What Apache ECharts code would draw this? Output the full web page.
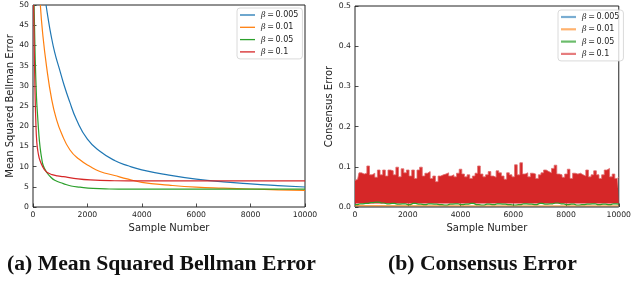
<!DOCTYPE html>
<html>
<head>
<meta charset="utf-8">
<script src="https://cdn.jsdelivr.net/npm/echarts@6/dist/echarts.min.js"></script>
<style>
  html, body { margin: 0; padding: 0; background: #fff; }
  #chart { width: 634px; height: 281px; }
</style>
</head>
<body>
<div id="chart"></div>
<script>
// series names / colours (matplotlib tab10)
const betaNames = ['β\u2009=\u20090.005', 'β\u2009=\u20090.01', 'β\u2009=\u20090.05', 'β\u2009=\u20090.1'];
const colors = ['#1f77b4', '#ff7f0e', '#2ca02c', '#d62728'];

// (a) mean squared bellman error, [sample, value]
const mbe005 = [[480, 50], [560, 46.5], [650, 43], [800, 38.2], [970, 34.2], [1150, 30], [1340, 26.2], [1600, 21.6], [2000, 16.8], [2460, 13.8], [3000, 11.5], [3500, 10.2], [4000, 9.2], [5000, 7.9], [6000, 6.9], [7000, 6.2], [8000, 5.7], [9000, 5.3], [10000, 4.95]];
const mbe01 = [[270, 50], [355, 43], [500, 34.7], [690, 26.5], [850, 22], [1050, 18.2], [1360, 14.1], [1700, 11.8], [2100, 10], [2460, 8.8], [3000, 7.8], [3500, 6.9], [4000, 6.1], [5000, 5.4], [6000, 4.9], [7000, 4.65], [8000, 4.45], [9000, 4.25], [10000, 4.1]];
const mbe05 = [[40, 50], [80, 37], [130, 27], [170, 22.5], [210, 18.5], [257, 15], [320, 12], [380, 10.2], [500, 8.6], [625, 7.6], [800, 6.6], [1115, 5.8], [1400, 5.2], [1730, 4.9], [2200, 4.6], [2800, 4.45], [3500, 4.4], [5000, 4.4], [7000, 4.4], [8500, 4.4], [10000, 4.4]];
const mbe1 = [[25, 50], [45, 40], [70, 30], [100, 22], [140, 16], [200, 13], [257, 11.5], [355, 10], [450, 9], [560, 8.4], [700, 8], [900, 7.7], [1115, 7.5], [1500, 7.1], [2100, 6.7], [3000, 6.5], [4000, 6.45], [6000, 6.45], [8000, 6.45], [10000, 6.45]];

// (b) consensus error
const ceStep = 100;           // samples between read-off points for beta=0.1
const ceRedTop = [
  0.066, 0.069, 0.085, 0.082, 0.084, 0.102, 0.080, 0.084, 0.074, 0.092,
  0.080, 0.092, 0.077, 0.092, 0.090, 0.080, 0.099, 0.075, 0.095, 0.085,
  0.092, 0.077, 0.092, 0.071, 0.092, 0.099, 0.077, 0.084, 0.088, 0.071,
  0.077, 0.063, 0.077, 0.080, 0.082, 0.085, 0.077, 0.080, 0.075, 0.084,
  0.094, 0.082, 0.075, 0.080, 0.071, 0.077, 0.084, 0.102, 0.082, 0.075,
  0.080, 0.088, 0.077, 0.074, 0.090, 0.085, 0.077, 0.069, 0.085, 0.080,
  0.075, 0.105, 0.080, 0.110, 0.082, 0.085, 0.075, 0.084, 0.082, 0.071,
  0.080, 0.085, 0.092, 0.088, 0.085, 0.096, 0.104, 0.082, 0.080, 0.074,
  0.082, 0.094, 0.071, 0.084, 0.082, 0.084, 0.080, 0.077, 0.092, 0.075,
  0.080, 0.090, 0.080, 0.071, 0.080, 0.092, 0.096, 0.075, 0.082, 0.071,
  0.075
];
const ceRedBottom = 0.009;
const ceGreenStep = 200;
const ceGreen = [
  0.006, 0.008, 0.009, 0.011, 0.012, 0.010, 0.008, 0.009, 0.007, 0.008,
  0.006, 0.009, 0.007, 0.006, 0.008, 0.007, 0.006, 0.005, 0.007, 0.008,
  0.006, 0.007, 0.009, 0.006, 0.005, 0.007, 0.006, 0.008, 0.007, 0.006,
  0.005, 0.006, 0.008, 0.007, 0.006, 0.009, 0.007, 0.008, 0.010, 0.008,
  0.006, 0.007, 0.005, 0.006, 0.007, 0.008, 0.006, 0.007, 0.006, 0.008,
  0.007
];
const ceOrange = [[0, 0.003], [5000, 0.0025], [10000, 0.0025]];
const ceBlue = [[0, 0.001], [10000, 0.001]];

const xTicks = { min: 0, max: 10000, interval: 2000 };

const chart = echarts.init(document.getElementById('chart'));

function toPairs(vals, step) {
  return vals.map((v, i) => [i * step, v]);
}

const textColor = '#222';
const tickFont = 7.7;

function xAxisFor(idx) {
  return {
    type: 'value', gridIndex: idx,
    min: xTicks.min, max: xTicks.max, interval: xTicks.interval,
    name: 'Sample Number', nameLocation: 'middle', nameGap: 9,
    nameTextStyle: { fontSize: 10, color: textColor, fontFamily: 'DejaVu Sans' },
    axisLine: { show: false },
    axisTick: { show: true, inside: true, length: 3.5, lineStyle: { color: textColor, width: 0.8 } },
    axisLabel: { fontSize: tickFont, color: textColor, margin: 4, fontFamily: 'DejaVu Sans', formatter: v => String(v) },
    splitLine: { show: false }
  };
}

function yAxisFor(idx, name, max, interval, gap, fmt) {
  return {
    type: 'value', gridIndex: idx, min: 0, max: max, interval: interval,
    name: name, nameLocation: 'middle', nameGap: gap,
    nameTextStyle: { fontSize: 10, color: textColor, fontFamily: 'DejaVu Sans' },
    axisLine: { show: false },
    axisTick: { show: true, inside: true, length: 3.5, lineStyle: { color: textColor, width: 0.8 } },
    axisLabel: { fontSize: tickFont, color: textColor, margin: 4, fontFamily: 'DejaVu Sans', formatter: fmt },
    splitLine: { show: false }
  };
}

function legendFor(left, top, iconH, opacities) {
  return {
    orient: 'vertical', left: left, top: top,
    icon: 'rect', itemWidth: 15, itemHeight: iconH, itemGap: 2.3,
    padding: [2, 4, 2, 3],
    backgroundColor: 'rgba(255,255,255,0.8)',
    borderColor: '#d0d0d0', borderWidth: 0.8, borderRadius: 3,
    selectedMode: false,
    data: betaNames.map((n, i) => ({ name: n, itemStyle: { opacity: opacities[i] } })),
    formatter: name => '{i|β}{t|' + name.slice(1) + '}',
    textStyle: {
      fontSize: 8, color: textColor, fontFamily: 'DejaVu Sans', lineHeight: 10, padding: [0, 0, 0, 1],
      rich: {
        i: { fontSize: 8, fontStyle: 'italic', fontFamily: 'DejaVu Serif', lineHeight: 10 },
        t: { fontSize: 8, fontFamily: 'DejaVu Sans', lineHeight: 10 }
      }
    }
  };
}

function mbeLine(idx, data) {
  return {
    name: betaNames[idx], type: 'line', xAxisIndex: 0, yAxisIndex: 0,
    data: data, symbol: 'none', smooth: 0.5,
    lineStyle: { color: colors[idx], width: 1.2 }, itemStyle: { color: colors[idx] },
    z: 2 + idx
  };
}

const option = {
  animation: false,
  backgroundColor: '#fff',
  title: [
    { text: '(a) Mean Squared Bellman Error', left: 7, top: 253, padding: 0,
      textStyle: { fontFamily: 'Liberation Serif', fontWeight: 'bold', fontSize: 21.7, color: '#111' } },
    { text: '(b) Consensus Error', left: 388, top: 253, padding: 0,
      textStyle: { fontFamily: 'Liberation Serif', fontWeight: 'bold', fontSize: 21.7, color: '#111' } }
  ],
  grid: [
    { left: 33, top: 5, width: 272, height: 202, show: true, borderColor: '#222', borderWidth: 1, backgroundColor: 'transparent' },
    { left: 355, top: 6, width: 271, height: 201, show: true, borderColor: '#222', borderWidth: 1, backgroundColor: 'transparent' }
  ],
  legend: [
    legendFor(237, 8, 1.3, [1, 1, 1, 1]),
    legendFor(558, 10, 2.2, [0.6, 0.6, 0.7, 0.6])
  ],
  xAxis: [xAxisFor(0), xAxisFor(1)],
  yAxis: [
    yAxisFor(0, 'Mean Squared Bellman Error', 50, 5, 12),
    yAxisFor(1, 'Consensus Error', 0.5, 0.1, 13, v => v.toFixed(1))
  ],
  series: [
    mbeLine(0, mbe005),
    mbeLine(1, mbe01),
    mbeLine(2, mbe05),
    mbeLine(3, mbe1),
    {
      name: betaNames[0], type: 'line', xAxisIndex: 1, yAxisIndex: 1, data: ceBlue, symbol: 'none',
      lineStyle: { color: colors[0], width: 1 }, itemStyle: { color: colors[0] }, z: 2
    },
    {
      name: betaNames[1], type: 'line', xAxisIndex: 1, yAxisIndex: 1, data: ceOrange, symbol: 'none',
      lineStyle: { color: colors[1], width: 1.2 }, itemStyle: { color: colors[1] }, z: 3
    },
    {
      name: betaNames[3], type: 'line', xAxisIndex: 1, yAxisIndex: 1, data: toPairs(ceRedTop, ceStep),
      symbol: 'none', step: 'middle',
      lineStyle: { color: '#e06a6b', width: 0.8 }, itemStyle: { color: colors[3] },
      areaStyle: { color: colors[3], opacity: 1, origin: ceRedBottom }, z: 4
    },
    {
      name: betaNames[2], type: 'line', xAxisIndex: 1, yAxisIndex: 1, data: toPairs(ceGreen, ceGreenStep),
      symbol: 'none', step: 'middle',
      lineStyle: { color: colors[2], width: 1.2 }, itemStyle: { color: colors[2] }, z: 5
    }
  ]
};

chart.setOption(option);
</script>
</body>
</html>
